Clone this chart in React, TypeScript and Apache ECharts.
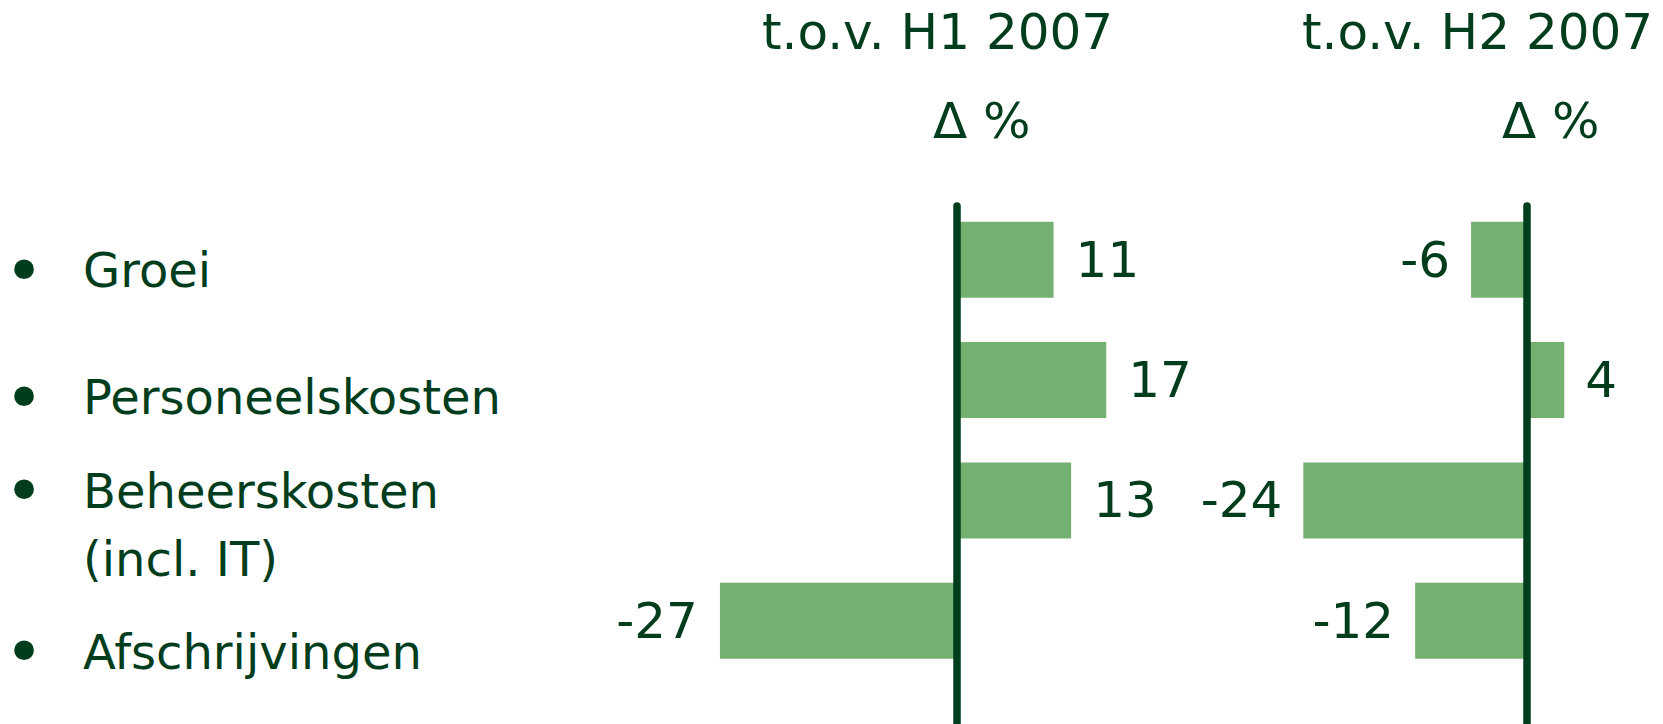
import React, { useEffect, useRef } from 'react';
import * as echarts from 'echarts';

const categories = ['Groei', 'Personeelskosten', 'Beheerskosten\n(incl. IT)', 'Afschrijvingen'];
const deltaH1 = [11, 17, 13, -27];
const deltaH2 = [-6, 4, -24, -12];
const columnTitles = ['t.o.v. H1 2007', 't.o.v. H2 2007'];
const unitLabel = 'Δ %';

const DARK = '#003d1c';
const BAR = '#74b170';
const FONT = '"DejaVu Sans", Verdana, sans-serif';

export default function App() {
  const ref = useRef<HTMLDivElement>(null);
  useEffect(() => {
    document.body.style.margin = '0';
    const chart = echarts.init(ref.current!, null, { renderer: 'svg' });

    const txt = { fontSize: 48, fontWeight: 'normal', color: DARK, fontFamily: FONT };
    const big = { ...txt, fontSize: 50 };

    const g1 = { left: 693.6, right: 530.4, top: 199.65, bottom: 43.15 };
    const g2 = { left: 1247.4, right: 42.8, top: 199.65, bottom: 43.15 };

    const hiddenValue = (gridIndex: number, min: number, max: number) => ({
      type: 'value', gridIndex, min, max, show: false,
    });
    const hiddenCat = (gridIndex: number) => ({
      type: 'category', gridIndex, data: categories, inverse: true, show: false,
    });
    const zeroLineCat = (gridIndex: number) => ({
      type: 'category', gridIndex, data: categories, inverse: true, z: 10,
      axisLine: { show: true, onZero: true, lineStyle: { color: DARK, width: 7.5 } },
      axisTick: { show: false }, axisLabel: { show: false }, splitLine: { show: false },
    });

    const mkData = (vals: number[], dist: number) =>
      vals.map((v) => ({ value: v, label: { position: v < 0 ? 'left' : 'right', distance: dist } }));

    const option: any = {
      animation: false,
      backgroundColor: '#ffffff',
      title: [
        { text: columnTitles[0], left: 762, top: 7, padding: 0, textStyle: big },
        { text: unitLabel, left: 933, top: 96, padding: 0, textStyle: big },
        { text: columnTitles[1], left: 1302, top: 7, padding: 0, textStyle: big },
        { text: unitLabel, left: 1502, top: 96, padding: 0, textStyle: big },
      ],
      grid: [
        { left: 4, width: 600, top: 206.6, bottom: 8.6 },
        g1,
        g2,
        { left: g1.left, right: g1.right, top: 206, bottom: 0 },
        { left: g2.left, right: g2.right, top: 206, bottom: 0 },
      ],
      xAxis: [
        hiddenValue(0, 0, 1),
        hiddenValue(1, -30, 20),
        hiddenValue(2, -30, 10),
        hiddenValue(3, -30, 20),
        hiddenValue(4, -30, 10),
      ],
      yAxis: [
        {
          type: 'category', gridIndex: 0, data: categories, inverse: true, position: 'left',
          axisLine: { show: false }, axisTick: { show: false }, splitLine: { show: false },
          axisLabel: {
            inside: true, margin: 0, align: 'left',
            formatter: (value: string) =>
              value.split('\n').map((l, i) => (i === 0 ? '{b|•}' : '{s| }') + '{t|' + l + '}').join('\n'),
            rich: {
              b: { ...txt, fontSize: 68, width: 79, lineHeight: 68, verticalAlign: 'middle' },
              s: { ...txt, width: 79, lineHeight: 68 },
              t: { ...txt, lineHeight: 68 },
            },
          },
        },
        hiddenCat(1),
        hiddenCat(2),
        zeroLineCat(3),
        zeroLineCat(4),
      ],
      series: [
        {
          name: columnTitles[0], type: 'bar', xAxisIndex: 1, yAxisIndex: 1, barWidth: 76,
          itemStyle: { color: BAR },
          label: { show: true, ...big, formatter: '{c}' },
          data: mkData(deltaH1, 22),
        },
        {
          name: columnTitles[1], type: 'bar', xAxisIndex: 2, yAxisIndex: 2, barWidth: 76,
          itemStyle: { color: BAR },
          label: { show: true, ...big, formatter: '{c}' },
          data: mkData(deltaH2, 21),
        },
      ],
    };
    chart.setOption(option);
    return () => chart.dispose();
  }, []);
  return <div ref={ref} style={{ width: 1663, height: 724 }} />;
}
